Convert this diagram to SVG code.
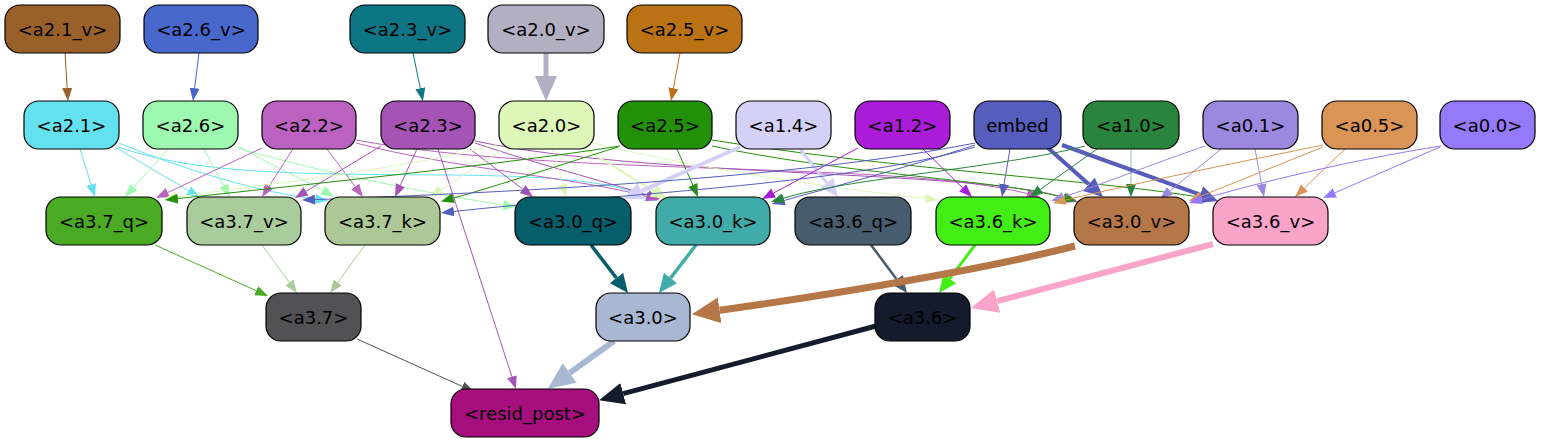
<svg xmlns="http://www.w3.org/2000/svg" width="1541" height="443" viewBox="0 0 1541 443">
<style>
.n rect{stroke:#000;stroke-width:1.2}
text{font-family:"DejaVu Sans","Liberation Sans",sans-serif;font-size:18px;text-anchor:middle;fill:#000}
#edges path{fill:none;stroke-linecap:butt}
.c99602a{stroke:#99602a}.c4767cc{stroke:#4767cc}.c0e7585{stroke:#0e7585}.cb2afc3{stroke:#b2afc3;stroke-width:5}.cbb7214{stroke:#bb7214}
.c64e1ee{stroke:#64e1ee}.c9ef9b0{stroke:#9ef9b0}.cbb62c1{stroke:#bb62c1}.ca554b5{stroke:#a554b5}.cdcf7b8{stroke:#dcf7b8}.cdcf7b8w{stroke:#dcf7b8;stroke-width:2}
.c23900a{stroke:#23900a}.cd5d1f6a{stroke:#d5d1f6;stroke-width:4}.cd5d1f6b{stroke:#d5d1f6;stroke-width:3}.cab1cd9{stroke:#ab1cd9}
.c575dbc{stroke:#575dbc}.c575dbcw{stroke:#575dbc;stroke-width:4}.c29853e{stroke:#29853e}.c9a89de{stroke:#9a89de}.cd99456{stroke:#d99456}.c9678fa{stroke:#9678fa}
.c4aaa24{stroke:#4aaa24}.ca8cc9c{stroke:#a8cc9c}.cadc897{stroke:#adc897}.c065e6b{stroke:#065e6b;stroke-width:3.5}.c41aba9{stroke:#41aba9;stroke-width:3.5}
.c475c6c{stroke:#475c6c;stroke-width:2.5}.c42ee14{stroke:#42ee14;stroke-width:3}.cb67748{stroke:#b67748;stroke-width:7}.cf9a4c8{stroke:#f9a4c8;stroke-width:6}
.c525254{stroke:#525254}.ca8b8d2{stroke:#a8b8d2;stroke-width:6}.c141b2c{stroke:#141b2c;stroke-width:5}
</style>
<defs>
<marker id="t99602a" markerUnits="userSpaceOnUse" markerWidth="13" markerHeight="10" viewBox="0 0 13 10" refX="0" refY="5" orient="auto"><path d="M0,0L13,5L0,10z" fill="#99602a"/></marker>
<marker id="t4767cc" markerUnits="userSpaceOnUse" markerWidth="13" markerHeight="10" viewBox="0 0 13 10" refX="0" refY="5" orient="auto"><path d="M0,0L13,5L0,10z" fill="#4767cc"/></marker>
<marker id="t0e7585" markerUnits="userSpaceOnUse" markerWidth="13" markerHeight="10" viewBox="0 0 13 10" refX="0" refY="5" orient="auto"><path d="M0,0L13,5L0,10z" fill="#0e7585"/></marker>
<marker id="tbb7214" markerUnits="userSpaceOnUse" markerWidth="13" markerHeight="10" viewBox="0 0 13 10" refX="0" refY="5" orient="auto"><path d="M0,0L13,5L0,10z" fill="#bb7214"/></marker>
<marker id="t64e1ee" markerUnits="userSpaceOnUse" markerWidth="13" markerHeight="10" viewBox="0 0 13 10" refX="0" refY="5" orient="auto"><path d="M0,0L13,5L0,10z" fill="#64e1ee"/></marker>
<marker id="t9ef9b0" markerUnits="userSpaceOnUse" markerWidth="13" markerHeight="10" viewBox="0 0 13 10" refX="0" refY="5" orient="auto"><path d="M0,0L13,5L0,10z" fill="#9ef9b0"/></marker>
<marker id="tbb62c1" markerUnits="userSpaceOnUse" markerWidth="13" markerHeight="10" viewBox="0 0 13 10" refX="0" refY="5" orient="auto"><path d="M0,0L13,5L0,10z" fill="#bb62c1"/></marker>
<marker id="ta554b5" markerUnits="userSpaceOnUse" markerWidth="13" markerHeight="10" viewBox="0 0 13 10" refX="0" refY="5" orient="auto"><path d="M0,0L13,5L0,10z" fill="#a554b5"/></marker>
<marker id="tdcf7b8" markerUnits="userSpaceOnUse" markerWidth="13" markerHeight="10" viewBox="0 0 13 10" refX="0" refY="5" orient="auto"><path d="M0,0L13,5L0,10z" fill="#dcf7b8"/></marker>
<marker id="tdcf7b8w" markerUnits="userSpaceOnUse" markerWidth="16" markerHeight="14" viewBox="0 0 16 14" refX="0" refY="7" orient="auto"><path d="M0,0L16,7L0,14z" fill="#dcf7b8"/></marker>
<marker id="t23900a" markerUnits="userSpaceOnUse" markerWidth="13" markerHeight="10" viewBox="0 0 13 10" refX="0" refY="5" orient="auto"><path d="M0,0L13,5L0,10z" fill="#23900a"/></marker>
<marker id="tab1cd9" markerUnits="userSpaceOnUse" markerWidth="13" markerHeight="10" viewBox="0 0 13 10" refX="0" refY="5" orient="auto"><path d="M0,0L13,5L0,10z" fill="#ab1cd9"/></marker>
<marker id="t575dbc" markerUnits="userSpaceOnUse" markerWidth="13" markerHeight="10" viewBox="0 0 13 10" refX="0" refY="5" orient="auto"><path d="M0,0L13,5L0,10z" fill="#575dbc"/></marker>
<marker id="t29853e" markerUnits="userSpaceOnUse" markerWidth="13" markerHeight="10" viewBox="0 0 13 10" refX="0" refY="5" orient="auto"><path d="M0,0L13,5L0,10z" fill="#29853e"/></marker>
<marker id="t9a89de" markerUnits="userSpaceOnUse" markerWidth="13" markerHeight="10" viewBox="0 0 13 10" refX="0" refY="5" orient="auto"><path d="M0,0L13,5L0,10z" fill="#9a89de"/></marker>
<marker id="td99456" markerUnits="userSpaceOnUse" markerWidth="13" markerHeight="10" viewBox="0 0 13 10" refX="0" refY="5" orient="auto"><path d="M0,0L13,5L0,10z" fill="#d99456"/></marker>
<marker id="t9678fa" markerUnits="userSpaceOnUse" markerWidth="13" markerHeight="10" viewBox="0 0 13 10" refX="0" refY="5" orient="auto"><path d="M0,0L13,5L0,10z" fill="#9678fa"/></marker>
<marker id="t4aaa24" markerUnits="userSpaceOnUse" markerWidth="13" markerHeight="10" viewBox="0 0 13 10" refX="0" refY="5" orient="auto"><path d="M0,0L13,5L0,10z" fill="#4aaa24"/></marker>
<marker id="ta8cc9c" markerUnits="userSpaceOnUse" markerWidth="13" markerHeight="10" viewBox="0 0 13 10" refX="0" refY="5" orient="auto"><path d="M0,0L13,5L0,10z" fill="#a8cc9c"/></marker>
<marker id="tadc897" markerUnits="userSpaceOnUse" markerWidth="13" markerHeight="10" viewBox="0 0 13 10" refX="0" refY="5" orient="auto"><path d="M0,0L13,5L0,10z" fill="#adc897"/></marker>
<marker id="t525254" markerUnits="userSpaceOnUse" markerWidth="13" markerHeight="10" viewBox="0 0 13 10" refX="0" refY="5" orient="auto"><path d="M0,0L13,5L0,10z" fill="#525254"/></marker>
<marker id="tb2afc3" markerUnits="userSpaceOnUse" markerWidth="25" markerHeight="22" viewBox="0 0 25 22" refX="0" refY="11" orient="auto"><path d="M0,0L25,11L0,22z" fill="#b2afc3"/></marker>
<marker id="td5d1f6a" markerUnits="userSpaceOnUse" markerWidth="19" markerHeight="18" viewBox="0 0 19 18" refX="0" refY="9" orient="auto"><path d="M0,0L19,9L0,18z" fill="#d5d1f6"/></marker>
<marker id="td5d1f6b" markerUnits="userSpaceOnUse" markerWidth="18" markerHeight="16" viewBox="0 0 18 16" refX="0" refY="8" orient="auto"><path d="M0,0L18,8L0,16z" fill="#d5d1f6"/></marker>
<marker id="t575dbcw" markerUnits="userSpaceOnUse" markerWidth="19" markerHeight="18" viewBox="0 0 19 18" refX="0" refY="9" orient="auto"><path d="M0,0L19,9L0,18z" fill="#575dbc"/></marker>
<marker id="t065e6b" markerUnits="userSpaceOnUse" markerWidth="19" markerHeight="17" viewBox="0 0 19 17" refX="0" refY="8.5" orient="auto"><path d="M0,0L19,8.5L0,17z" fill="#065e6b"/></marker>
<marker id="t41aba9" markerUnits="userSpaceOnUse" markerWidth="19" markerHeight="17" viewBox="0 0 19 17" refX="0" refY="8.5" orient="auto"><path d="M0,0L19,8.5L0,17z" fill="#41aba9"/></marker>
<marker id="t475c6c" markerUnits="userSpaceOnUse" markerWidth="17" markerHeight="15" viewBox="0 0 17 15" refX="0" refY="7.5" orient="auto"><path d="M0,0L17,7.5L0,15z" fill="#475c6c"/></marker>
<marker id="t42ee14" markerUnits="userSpaceOnUse" markerWidth="18" markerHeight="16" viewBox="0 0 18 16" refX="0" refY="8" orient="auto"><path d="M0,0L18,8L0,16z" fill="#42ee14"/></marker>
<marker id="tb67748" markerUnits="userSpaceOnUse" markerWidth="28" markerHeight="26" viewBox="0 0 28 26" refX="0" refY="13" orient="auto"><path d="M0,0L28,13L0,26z" fill="#b67748"/></marker>
<marker id="tf9a4c8" markerUnits="userSpaceOnUse" markerWidth="27" markerHeight="24" viewBox="0 0 27 24" refX="0" refY="12" orient="auto"><path d="M0,0L27,12L0,24z" fill="#f9a4c8"/></marker>
<marker id="ta8b8d2" markerUnits="userSpaceOnUse" markerWidth="27" markerHeight="24" viewBox="0 0 27 24" refX="0" refY="12" orient="auto"><path d="M0,0L27,12L0,24z" fill="#a8b8d2"/></marker>
<marker id="t141b2c" markerUnits="userSpaceOnUse" markerWidth="25" markerHeight="22" viewBox="0 0 25 22" refX="0" refY="11" orient="auto"><path d="M0,0L25,11L0,22z" fill="#141b2c"/></marker>
</defs>
<rect width="1541" height="443" fill="#fff"/>
<g id="edges">
<path class="c99602a" marker-end="url(#t99602a)" d="M65,53L67.2,88"/>
<path class="c4767cc" marker-end="url(#t4767cc)" d="M199,53L194.6,88.1"/>
<path class="c0e7585" marker-end="url(#t0e7585)" d="M413,53L420.3,88.3"/>
<path class="cb2afc3" marker-end="url(#tb2afc3)" d="M546,53L546,76"/>
<path class="cbb7214" marker-end="url(#tbb7214)" d="M680,53L673.4,88.2"/>
<path class="c64e1ee" marker-end="url(#t64e1ee)" d="M80,149L91.1,184.6"/>
<path class="c64e1ee" marker-end="url(#t64e1ee)" d="M115,147L188.6,190.7"/>
<path class="c64e1ee" marker-end="url(#t64e1ee)" d="M119,143C190,172 260,192 315.2,199"/>
<path class="c64e1ee" marker-end="url(#t64e1ee)" d="M118,147C200,175 300,174 450,175C560,176 610,182 645.9,196.2"/>
<path class="c9ef9b0" marker-end="url(#t9ef9b0)" d="M168,149L133.7,187.3"/>
<path class="c9ef9b0" marker-end="url(#t9ef9b0)" d="M204,149L223.8,185.6"/>
<path class="c9ef9b0" marker-end="url(#t9ef9b0)" d="M238,146C270,165 305,180 322.8,190.4"/>
<path class="c9ef9b0" marker-end="url(#t9ef9b0)" d="M238,148C330,175 440,195 503.2,205"/>
<path class="cbb62c1" marker-end="url(#tbb62c1)" d="M262,148L167.8,192.5"/>
<path class="cbb62c1" marker-end="url(#tbb62c1)" d="M293,149L269.1,186.1"/>
<path class="cbb62c1" marker-end="url(#tbb62c1)" d="M327,149L355.2,186.6"/>
<path class="cbb62c1" marker-end="url(#tbb62c1)" d="M356,143C450,168 580,178 646.5,196.5"/>
<path class="cbb62c1" marker-end="url(#tbb62c1)" d="M356,140C560,178 900,160 1027.4,193.7"/>
<path class="ca554b5" marker-end="url(#ta554b5)" d="M381,146L306.1,191.3"/>
<path class="ca554b5" marker-end="url(#ta554b5)" d="M417,149L400.4,185.2"/>
<path class="ca554b5" marker-end="url(#ta554b5)" d="M470,149L522.7,189.1"/>
<path class="ca554b5" marker-end="url(#ta554b5)" d="M475,143C540,165 600,180 647.6,195.1"/>
<path class="ca554b5" marker-end="url(#ta554b5)" d="M475,141C650,178 980,170 1065.6,198"/>
<path class="ca554b5" marker-end="url(#ta554b5)" d="M438,149L511.9,376.7"/>
<path class="cdcf7b8" marker-end="url(#tdcf7b8)" d="M499,144C400,170 260,185 175.9,197.1"/>
<path class="cdcf7b8" marker-end="url(#tdcf7b8)" d="M505,148L440.9,189.9"/>
<path class="cdcf7b8" marker-end="url(#tdcf7b8)" d="M553,149L562.6,184.5"/>
<path class="cdcf7b8w" marker-end="url(#tdcf7b8w)" d="M585,149L653.3,190.7"/>
<path class="cdcf7b8" marker-end="url(#tdcf7b8)" d="M594,143C700,170 850,190 925.1,198.5"/>
<path class="c23900a" marker-end="url(#t23900a)" d="M620,146C500,165 300,185 177.9,198.6"/>
<path class="c23900a" marker-end="url(#t23900a)" d="M618,147C560,165 500,185 453.4,198.1"/>
<path class="c23900a" marker-end="url(#t23900a)" d="M677,149L692.8,185.1"/>
<path class="c23900a" marker-end="url(#t23900a)" d="M712,146C850,175 1000,180 1063.5,197.5"/>
<path class="c23900a" marker-end="url(#t23900a)" d="M712,140C900,170 1100,180 1203.2,197.8"/>
<path class="cd5d1f6a" marker-end="url(#td5d1f6a)" d="M740,147L641.3,191.1"/>
<path class="cd5d1f6b" marker-end="url(#td5d1f6b)" d="M800,149L826.8,182.9"/>
<path class="cab1cd9" marker-end="url(#tab1cd9)" d="M858,148L773.6,193"/>
<path class="cab1cd9" marker-end="url(#tab1cd9)" d="M923,149L962.7,187.9"/>
<path class="c575dbc" marker-end="url(#t575dbc)" d="M975,143C800,178 520,192 315,199.6"/>
<path class="c575dbc" marker-end="url(#t575dbc)" d="M975,147C850,185 600,195 453.9,211.5"/>
<path class="c575dbc" marker-end="url(#t575dbc)" d="M975,145C900,170 820,190 784.5,200.4"/>
<path class="c575dbc" marker-end="url(#t575dbc)" d="M1010,149L1004.1,184.2"/>
<path class="c575dbcw" marker-end="url(#t575dbcw)" d="M1047,147L1088.8,184.3"/>
<path class="c575dbcw" marker-end="url(#t575dbcw)" d="M1062,145L1200.1,194.6"/>
<path class="c29853e" marker-end="url(#t29853e)" d="M1085,146C1000,168 850,178 783.4,198.2"/>
<path class="c29853e" marker-end="url(#t29853e)" d="M1097,149L1040.5,189.3"/>
<path class="c29853e" marker-end="url(#t29853e)" d="M1131,149L1131,184" stroke-opacity="0.5"/>
<path class="c9a89de" marker-end="url(#t9a89de)" d="M1205,146C1150,165 1100,185 1063.4,197"/>
<path class="c9a89de" marker-end="url(#t9a89de)" d="M1221,149L1170,190.8"/>
<path class="c9a89de" marker-end="url(#t9a89de)" d="M1255,149L1261.6,184.2"/>
<path class="cd99456" marker-end="url(#td99456)" d="M1323,145C1250,160 1150,180 1065.6,200"/>
<path class="cd99456" marker-end="url(#td99456)" d="M1323,147L1201.1,196.1"/>
<path class="cd99456" marker-end="url(#td99456)" d="M1345,149L1304.4,188"/>
<path class="c9678fa" marker-end="url(#t9678fa)" d="M1441,146C1350,160 1250,185 1201.5,199.3"/>
<path class="c9678fa" marker-end="url(#t9678fa)" d="M1440,147L1334.9,192.8"/>
<path class="c4aaa24" marker-end="url(#t4aaa24)" d="M155,245L256.2,290.7"/>
<path class="ca8cc9c" marker-end="url(#ta8cc9c)" d="M262,245L289.3,282.5"/>
<path class="cadc897" marker-end="url(#tadc897)" d="M365,245L337.7,282.5"/>
<path class="c065e6b" marker-end="url(#t065e6b)" d="M591,245L616.4,278"/>
<path class="c41aba9" marker-end="url(#t41aba9)" d="M696,245L670.6,278"/>
<path class="c475c6c" marker-end="url(#t475c6c)" d="M871,245L896.8,279.4"/>
<path class="c42ee14" marker-end="url(#t42ee14)" d="M975,245L949.8,278.6"/>
<path class="cb67748" marker-end="url(#tb67748)" d="M1075,246C990,268 850,292 719.6,310.3"/>
<path class="cf9a4c8" marker-end="url(#tf9a4c8)" d="M1213,244L997.1,301.1"/>
<path class="c525254" marker-end="url(#t525254)" d="M357,339L462.3,386.4"/>
<path class="ca8b8d2" marker-end="url(#ta8b8d2)" d="M614,341L569.7,372.9"/>
<path class="c141b2c" marker-end="url(#t141b2c)" d="M876,326L623.2,393.7"/>
</g>
<g id="a2_1_v" class="n"><rect x="5" y="5" width="115" height="48" rx="15" fill="#99602a"/><text x="62.5" y="35.5">&lt;a2.1_v&gt;</text></g>
<g id="a2_6_v" class="n"><rect x="144" y="5" width="114" height="48" rx="15" fill="#4767cc"/><text x="201" y="35.5">&lt;a2.6_v&gt;</text></g>
<g id="a2_3_v" class="n"><rect x="350" y="5" width="115" height="48" rx="15" fill="#0e7585"/><text x="407.5" y="35.5">&lt;a2.3_v&gt;</text></g>
<g id="a2_0_v" class="n"><rect x="488" y="5" width="116" height="48" rx="15" fill="#b2afc3"/><text x="546" y="35.5">&lt;a2.0_v&gt;</text></g>
<g id="a2_5_v" class="n"><rect x="627" y="5" width="115" height="48" rx="15" fill="#bb7214"/><text x="684.5" y="35.5">&lt;a2.5_v&gt;</text></g>
<g id="a2_1" class="n"><rect x="24" y="101" width="95" height="48" rx="15" fill="#64e1ee"/><text x="71.5" y="131.5">&lt;a2.1&gt;</text></g>
<g id="a2_6" class="n"><rect x="143" y="101" width="95" height="48" rx="15" fill="#9ef9b0"/><text x="190.5" y="131.5">&lt;a2.6&gt;</text></g>
<g id="a2_2" class="n"><rect x="262" y="101" width="94" height="48" rx="15" fill="#bb62c1"/><text x="309" y="131.5">&lt;a2.2&gt;</text></g>
<g id="a2_3" class="n"><rect x="381" y="101" width="94" height="48" rx="15" fill="#a554b5"/><text x="428" y="131.5">&lt;a2.3&gt;</text></g>
<g id="a2_0" class="n"><rect x="499" y="101" width="95" height="48" rx="15" fill="#dcf7b8"/><text x="546.5" y="131.5">&lt;a2.0&gt;</text></g>
<g id="a2_5" class="n"><rect x="618" y="101" width="94" height="48" rx="15" fill="#23900a"/><text x="665" y="131.5">&lt;a2.5&gt;</text></g>
<g id="a1_4" class="n"><rect x="736" y="101" width="95" height="48" rx="15" fill="#d5d1f6"/><text x="783.5" y="131.5">&lt;a1.4&gt;</text></g>
<g id="a1_2" class="n"><rect x="855" y="101" width="95" height="48" rx="15" fill="#ab1cd9"/><text x="902.5" y="131.5">&lt;a1.2&gt;</text></g>
<g id="embed" class="n"><rect x="974" y="101" width="87" height="48" rx="15" fill="#575dbc"/><text x="1017.5" y="131.5">embed</text></g>
<g id="a1_0" class="n"><rect x="1083" y="101" width="96" height="48" rx="15" fill="#29853e"/><text x="1131" y="131.5">&lt;a1.0&gt;</text></g>
<g id="a0_1" class="n"><rect x="1203" y="101" width="95" height="48" rx="15" fill="#9a89de"/><text x="1250.5" y="131.5">&lt;a0.1&gt;</text></g>
<g id="a0_5" class="n"><rect x="1322" y="101" width="95" height="48" rx="15" fill="#d99456"/><text x="1369.5" y="131.5">&lt;a0.5&gt;</text></g>
<g id="a0_0" class="n"><rect x="1440" y="101" width="95" height="48" rx="15" fill="#9678fa"/><text x="1487.5" y="131.5">&lt;a0.0&gt;</text></g>
<g id="a3_7_q" class="n"><rect x="46" y="197" width="116" height="48" rx="15" fill="#4aaa24"/><text x="104" y="227.5">&lt;a3.7_q&gt;</text></g>
<g id="a3_7_v" class="n"><rect x="187" y="197" width="114" height="48" rx="15" fill="#a8cc9c"/><text x="244" y="227.5">&lt;a3.7_v&gt;</text></g>
<g id="a3_7_k" class="n"><rect x="325" y="197" width="115" height="48" rx="15" fill="#adc897"/><text x="382.5" y="227.5">&lt;a3.7_k&gt;</text></g>
<g id="a3_0_q" class="n"><rect x="515" y="197" width="116" height="48" rx="15" fill="#065e6b"/><text x="573" y="227.5">&lt;a3.0_q&gt;</text></g>
<g id="a3_0_k" class="n"><rect x="656" y="197" width="114" height="48" rx="15" fill="#41aba9"/><text x="713" y="227.5">&lt;a3.0_k&gt;</text></g>
<g id="a3_6_q" class="n"><rect x="795" y="197" width="116" height="48" rx="15" fill="#475c6c"/><text x="853" y="227.5">&lt;a3.6_q&gt;</text></g>
<g id="a3_6_k" class="n"><rect x="936" y="197" width="114" height="48" rx="15" fill="#42ee14"/><text x="993" y="227.5">&lt;a3.6_k&gt;</text></g>
<g id="a3_0_v" class="n"><rect x="1074" y="197" width="115" height="48" rx="15" fill="#b67748"/><text x="1131.5" y="227.5">&lt;a3.0_v&gt;</text></g>
<g id="a3_6_v" class="n"><rect x="1213" y="197" width="115" height="48" rx="15" fill="#f9a4c8"/><text x="1270.5" y="227.5">&lt;a3.6_v&gt;</text></g>
<g id="a3_7" class="n"><rect x="266" y="293" width="95" height="48" rx="15" fill="#525254"/><text x="313.5" y="323.5">&lt;a3.7&gt;</text></g>
<g id="a3_0" class="n"><rect x="596" y="293" width="94" height="48" rx="15" fill="#a8b8d2"/><text x="643" y="323.5">&lt;a3.0&gt;</text></g>
<g id="a3_6" class="n"><rect x="875" y="293" width="95" height="48" rx="15" fill="#141b2c"/><text x="922.5" y="323.5">&lt;a3.6&gt;</text></g>
<g id="resid_post" class="n"><rect x="451" y="389" width="148" height="48" rx="15" fill="#a50e7c"/><text x="525" y="419.5">&lt;resid_post&gt;</text></g>
</svg>
